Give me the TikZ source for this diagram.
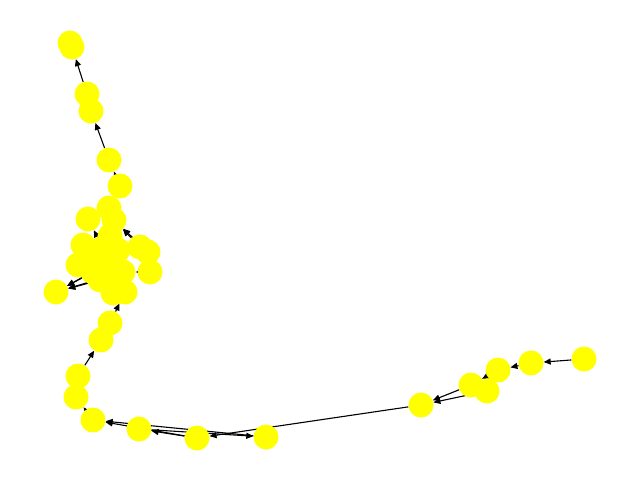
\documentclass[tikz,border=0pt]{standalone}
\usepackage{tikz}
\usetikzlibrary{arrows.meta,backgrounds}
\definecolor{ndyellow}{RGB}{255,255,0}
\tikzstyle{nd}=[circle, fill=ndyellow, draw=none, minimum size=25pt, inner sep=0]
\tikzstyle{ed}=[-{Triangle[length=7pt,width=6pt]}, line width=1.1pt, black]

\begin{document}
\begin{tikzpicture}[x=1pt, y=-1pt]
                \useasboundingbox (0,0) rectangle (640,480);
                % right chain
                \node[nd] (r1) at (584,359) {};
                \node[nd] (r2) at (531,363) {};
                \node[nd] (r3) at (498,370) {};
                \node[nd] (r4) at (471,385) {};
                \node[nd] (r5) at (487,391) {};
                \node[nd] (r6) at (421,405) {};
                % bottom
                \node[nd] (b1) at (93,420) {};
                \node[nd] (b2) at (139,429) {};
                \node[nd] (b3) at (197,438) {};
                \node[nd] (b4) at (266,437) {};
                % left
                \node[nd] (l1) at (76,397) {};
                \node[nd] (l2) at (78,376) {};
                \node[nd] (l3) at (101,340) {};
                \node[nd] (l4) at (110,323) {};
                % top
                \node[nd] (t1) at (70,43) {};
                \node[nd] (t2) at (72,47) {};
                \node[nd] (t3) at (87,94) {};
                \node[nd] (t4) at (91,111) {};
                \node[nd] (t5) at (109,160) {};
                \node[nd] (t6) at (120,186) {};
                % cluster
                \node[nd] (c1) at (109,208) {};
                \node[nd] (c2) at (88,219) {};
                \node[nd] (c3) at (114,220) {};
                \node[nd] (c4) at (83,245) {};
                \node[nd] (c5) at (103,248) {};
                \node[nd] (c17) at (118,250) {};
                \node[nd] (c18) at (110,236) {};
                \node[nd] (c6) at (78,265) {};
                \node[nd] (c7) at (110,262) {};
                \node[nd] (c19) at (95,258) {};
                \node[nd] (c20) at (118,278) {};
                \node[nd] (c8) at (93,272) {};
                \node[nd] (c16) at (100,280) {};
                \node[nd] (c9) at (123,272) {};
                \node[nd] (c10) at (140,247) {};
                \node[nd] (c11) at (148,252) {};
                \node[nd] (c12) at (150,272) {};
                \node[nd] (c13) at (113,293) {};
                \node[nd] (c14) at (125,292) {};
                \node[nd] (c15) at (56,292) {};
                \begin{pgfonlayer}{background}
                \draw[ed] (r1) -- (r2);
                \draw[ed] (r2) -- (r3);
                \draw[ed] (r3) -- (r4);
                \draw[ed] (r4) -- (r6);
                \draw[ed] (r5) -- (r6);
                \draw[ed] (r6) -- (b3);
                \draw[ed] (b3) -- (b1);
                \draw[ed] (b4) -- (b1);
                \draw[ed] (b3) -- (b2);
                \draw[ed] (b2) -- (b4);
                \draw[ed] (b1) -- (l1);
                \draw[ed] (l2) -- (l3);
                \draw[ed] (l4) -- (c14);
                \draw[ed] (c1) -- (t6);
                \draw[ed] (t6) -- (t5);
                \draw[ed] (t5) -- (t4);
                \draw[ed] (t3) -- (t2);
                \draw[ed] (c10) -- (c3);
                \draw[ed] (c11) -- (c3);
                \draw[ed] (c12) -- (c9);
                \draw[ed] (c11) -- (c17);
                \draw[ed] (c7) -- (c15);
                \draw[ed] (c8) -- (c15);
                \draw[ed] (c16) -- (c15);
                \draw[ed] (c9) -- (c15);
                \draw[ed] (c5) -- (c2);
                \end{pgfonlayer}
\end{tikzpicture}
\end{document}
